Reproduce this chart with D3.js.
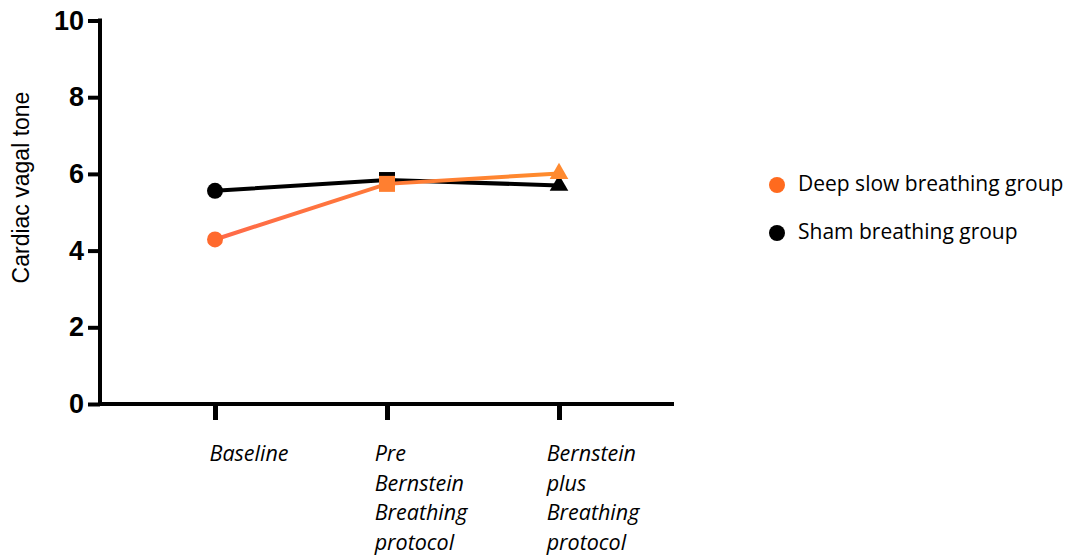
<!DOCTYPE html>
<html>
<head>
<meta charset="utf-8">
<script src="https://cdn.jsdelivr.net/npm/d3@7"></script>
<style>
  html, body { margin: 0; padding: 0; background: #fff; }
  svg { display: block; }
</style>
</head>
<body>
<svg id="chart" width="1066" height="556"></svg>
<script>
// Time points and group means of cardiac vagal tone
const categories = ["Baseline", "Pre Bernstein Breathing protocol", "Bernstein plus Breathing protocol"];
const categoryLines = [["Baseline"], ["Pre", "Bernstein", "Breathing", "protocol"], ["Bernstein", "plus", "Breathing", "protocol"]];
const shamValues = [5.56, 5.84, 5.70];
const deepSlowValues = [4.29, 5.74, 6.01];
const yTicks = [0, 2, 4, 6, 8, 10];
const seriesNames = ["Deep slow breathing group", "Sham breathing group"];
const markerShapes = [d3.symbolCircle, d3.symbolSquare, d3.symbolTriangle];

const svg = d3.select("#chart");
const axisX0 = 100, axisX1 = 674;
const yTop = 20.5, yBottom = 404;

const x = d3.scalePoint().domain(categories).range([215, 559]);
const y = d3.scaleLinear().domain([0, 10]).range([yBottom, yTop]);

// Y axis
const yAxis = svg.append("g")
  .attr("transform", `translate(${axisX0},0)`)
  .call(d3.axisLeft(y).tickValues(yTicks).tickSize(12).tickPadding(4).tickFormat(d3.format("d")));
yAxis.select(".domain").remove();
yAxis.selectAll(".tick line").attr("stroke", "#000").attr("stroke-width", 4);
yAxis.selectAll(".tick text")
  .attr("fill", "#000")
  .attr("font-family", "Liberation Sans, Arial, sans-serif")
  .attr("font-weight", "bold")
  .attr("font-size", 27);
svg.append("line")
  .attr("x1", axisX0).attr("x2", axisX0)
  .attr("y1", y(10) - 2).attr("y2", yBottom + 2)
  .attr("stroke", "#000").attr("stroke-width", 4);

// X axis
const xAxis = svg.append("g")
  .attr("transform", `translate(0,${yBottom})`)
  .call(d3.axisBottom(x).tickSize(16).tickFormat(""));
xAxis.select(".domain").remove();
xAxis.selectAll(".tick line").attr("stroke", "#000").attr("stroke-width", 5);
svg.append("line")
  .attr("x1", axisX0 - 2).attr("x2", axisX1)
  .attr("y1", yBottom).attr("y2", yBottom)
  .attr("stroke", "#000").attr("stroke-width", 4);

// Multi-line italic category labels: each block is left-aligned text,
// with the block centred a little to the right of its tick
const labelG = svg.append("g")
  .attr("font-family", "Open Sans, Noto Sans, sans-serif")
  .attr("font-style", "italic")
  .attr("font-size", 21.5)
  .attr("fill", "#000");
categories.forEach((c, i) => {
  const t = labelG.append("text").attr("y", 461);
  const spans = categoryLines[i].map((ln, j) =>
    t.append("tspan").attr("dy", j === 0 ? 0 : 29.5).text(ln));
  const blockW = d3.max(spans, s => s.node().getComputedTextLength());
  const left = x(c) + 34 - blockW / 2;
  spans.forEach(s => s.attr("x", left));
});

// Y axis title
svg.append("text")
  .attr("transform", `translate(29,187.5) rotate(-90)`)
  .attr("text-anchor", "middle")
  .attr("font-family", "Liberation Sans, Arial, sans-serif")
  .attr("font-size", 23)
  .attr("fill", "#000")
  .text("Cardiac vagal tone");

// Orange gradient along the deep slow breathing line
const defs = svg.append("defs");
const grad = defs.append("linearGradient")
  .attr("id", "orangeGrad")
  .attr("gradientUnits", "userSpaceOnUse")
  .attr("x1", x(categories[0])).attr("x2", x(categories[2]))
  .attr("y1", 0).attr("y2", 0);
grad.append("stop").attr("offset", "0%").attr("stop-color", "#ff6a4a");
grad.append("stop").attr("offset", "50%").attr("stop-color", "#ff7a38");
grad.append("stop").attr("offset", "100%").attr("stop-color", "#ff8c2c");

const line = d3.line().x((d, i) => x(categories[i])).y(d => y(d));

function drawSeries(values, stroke, fills) {
  svg.append("path")
    .datum(values)
    .attr("d", line)
    .attr("fill", "none")
    .attr("stroke", stroke)
    .attr("stroke-width", 4);
  values.forEach((v, i) => {
    const shape = markerShapes[i];
    const size = shape === d3.symbolCircle ? 200 : shape === d3.symbolSquare ? 256 : 150;
    svg.append("path")
      .attr("d", d3.symbol().type(shape).size(size)())
      .attr("transform", `translate(${x(categories[i])},${y(v)})`)
      .attr("fill", fills[i]);
  });
}

drawSeries(shamValues, "#000", ["#000", "#000", "#000"]);
drawSeries(deepSlowValues, "url(#orangeGrad)", ["#ff6a2e", "#ff7f30", "#ff8a30"]);

// Legend
const legend = svg.append("g")
  .attr("font-family", "Open Sans, Noto Sans, sans-serif")
  .attr("font-size", 21)
  .attr("fill", "#000");
const legendColors = ["#ff6a1e", "#000"];
seriesNames.forEach((name, i) => {
  const cy = 185 + i * 48;
  legend.append("circle").attr("cx", 777).attr("cy", cy).attr("r", 8).attr("fill", legendColors[i]);
  legend.append("text").attr("x", 798).attr("y", cy + 6).text(name);
});
</script>
</body>
</html>
